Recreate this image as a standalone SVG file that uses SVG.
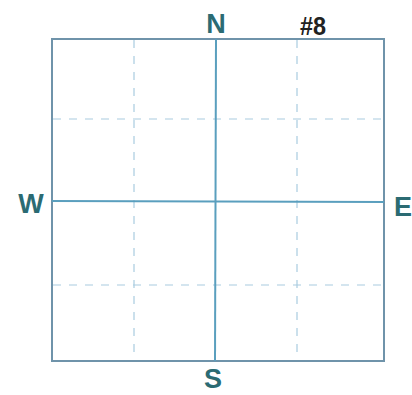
<svg xmlns="http://www.w3.org/2000/svg" width="412" height="395" viewBox="0 0 412 395">
<style>
.lbl{font-family:"Liberation Sans",Arial,sans-serif;font-weight:bold;font-size:27px;fill:#2b6b73;text-anchor:middle}
.dash{stroke:#a9cce0;stroke-width:1.2;stroke-dasharray:8 8;fill:none}
.axis{stroke:#5a9fbe;stroke-width:2;fill:none}
</style>
<rect width="412" height="395" fill="#ffffff"/>
<g id="grid">
<line class="dash" x1="134" y1="40" x2="134" y2="360"/>
<line class="dash" x1="297" y1="40" x2="297" y2="360"/>
<line class="dash" x1="53" y1="119" x2="383" y2="119"/>
<line class="dash" x1="53" y1="285" x2="383" y2="285"/>
</g>
<g id="frame">
<rect x="52" y="39" width="332" height="322" fill="none" stroke="#6f93aa" stroke-width="2"/>
</g>
<g id="axes">
<line class="axis" x1="216" y1="39" x2="215" y2="361"/>
<line class="axis" x1="52" y1="201" x2="384" y2="202"/>
</g>
<g id="labels">
<text class="lbl" x="216" y="33">N</text>
<text class="lbl" x="213" y="388">S</text>
<text class="lbl" x="31" y="213">W</text>
<text class="lbl" x="403" y="216">E</text>
<text x="313" y="35" font-family="Liberation Sans,Arial,sans-serif" font-weight="bold" font-size="26" fill="#222" text-anchor="middle" transform="translate(313 0) scale(0.9 1) translate(-313 0)">#8</text>
</g>
</svg>
